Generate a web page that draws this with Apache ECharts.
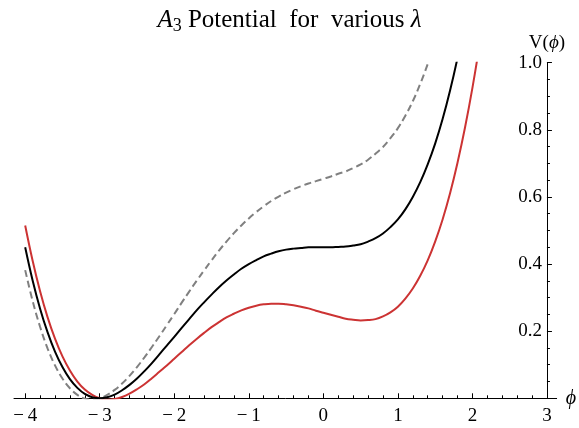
<!DOCTYPE html>
<html>

<head>
    <meta charset="utf-8">
    <title>A3 Potential</title>
    <!-- echarts -->
    <script src="https://cdn.jsdelivr.net/npm/echarts@6/dist/echarts.min.js"></script>
    <style>
        html, body { margin: 0; padding: 0; background: #fff; }
    </style>
</head>

<body>
    <div id="main" style="width: 579px;height:428px;"></div>

    <script type="text/javascript">
        // phi sample points (every 0.1)
        var phi = [-4.0, -3.9, -3.8, -3.7, -3.6, -3.5, -3.4, -3.3, -3.2, -3.1,
            -3.0, -2.9, -2.8, -2.7, -2.6, -2.5, -2.4, -2.3, -2.2, -2.1,
            -2.0, -1.9, -1.8, -1.7, -1.6, -1.5, -1.4, -1.3, -1.2, -1.1,
            -1.0, -0.9, -0.8, -0.7, -0.6, -0.5, -0.4, -0.3, -0.2, -0.1,
            0.0, 0.1, 0.2, 0.3, 0.4, 0.5, 0.6, 0.7, 0.8, 0.9,
            1.0, 1.1, 1.2, 1.3, 1.4, 1.5, 1.6, 1.7, 1.8, 1.9,
            2.0, 2.1, 2.2];
        // black solid curve
        var vBlack = [0.450, 0.351, 0.267, 0.197, 0.139, 0.093, 0.057, 0.031, 0.013, 0.003,
            0.000, 0.003, 0.011, 0.024, 0.040, 0.059, 0.081, 0.105, 0.131, 0.157,
            0.183, 0.210, 0.236, 0.262, 0.286, 0.309, 0.331, 0.351, 0.369, 0.386,
            0.400, 0.412, 0.423, 0.431, 0.438, 0.443, 0.446, 0.448, 0.450, 0.450,
            0.450, 0.450, 0.451, 0.452, 0.455, 0.459, 0.467, 0.477, 0.491, 0.510,
            0.533, 0.563, 0.600, 0.644, 0.697, 0.759, 0.832, 0.917, 1.014, 1.125,
            1.250, 1.392, 1.550];
        // red curve (lower)
        var vRed = [0.515, 0.410, 0.319, 0.242, 0.178, 0.125, 0.083, 0.050, 0.026, 0.010,
            0.000, -0.004, -0.002, 0.004, 0.014, 0.027, 0.042, 0.060, 0.079, 0.098,
            0.118, 0.138, 0.158, 0.177, 0.195, 0.212, 0.227, 0.241, 0.252, 0.262,
            0.270, 0.276, 0.280, 0.282, 0.282, 0.280, 0.277, 0.273, 0.268, 0.261,
            0.255, 0.249, 0.243, 0.237, 0.234, 0.232, 0.233, 0.236, 0.244, 0.256,
            0.273, 0.297, 0.327, 0.365, 0.411, 0.467, 0.533, 0.611, 0.702, 0.806,
            0.925, 1.060, 1.212];
        // gray dashed curve (upper)
        var vGray = [0.382, 0.290, 0.213, 0.149, 0.098, 0.059, 0.030, 0.010, -0.001, -0.004,
            0.000, 0.010, 0.025, 0.044, 0.067, 0.093, 0.122, 0.153, 0.185, 0.218,
            0.251, 0.285, 0.318, 0.350, 0.381, 0.411, 0.440, 0.467, 0.492, 0.515,
            0.536, 0.555, 0.572, 0.588, 0.601, 0.613, 0.623, 0.632, 0.640, 0.647,
            0.654, 0.661, 0.669, 0.676, 0.686, 0.697, 0.711, 0.729, 0.749, 0.775,
            0.805, 0.842, 0.885, 0.937, 0.996, 1.065, 1.145, 1.236, 1.340, 1.458,
            1.590, 1.738, 1.903];

        // tick labels
        var xTicks = [-4, -3, -2, -1, 0, 1, 2, 3];
        var yTicks = [0.2, 0.4, 0.6, 0.8, 1.0];

        var serif = 'Liberation Serif';
        var xMin = -4.15, xMax = 3.13;

        // minor ticks on x, 0.2 apart
        var xMinor = [];
        for (var i = 0; i < xTicks.length; i++) {
            for (var k = 1; k < 5; k++) {
                var m = Math.round((xTicks[i] + k * 0.2) * 10) / 10;
                if (m < xMax) xMinor.push(m);
            }
        }

        function pairs(ys) {
            var arr = [];
            for (var i = 0; i < phi.length; i++) {
                arr.push([phi[i], ys[i]]);
            }
            return arr;
        }

        var myChart = echarts.init(document.getElementById('main'));

        var option = {
            animation: false,
            title: {
                text: '{it|A}{sub|3} Potential  for  various {it|λ}',
                left: 'center',
                top: 0,
                textStyle: {
                    fontFamily: serif,
                    fontSize: 25,
                    fontWeight: 'normal',
                    color: '#000',
                    lineHeight: 30,
                    rich: {
                        it: { fontFamily: serif, fontSize: 25, fontStyle: 'italic', color: '#000', lineHeight: 30 },
                        sub: { fontFamily: serif, fontSize: 18, color: '#000', lineHeight: 17, verticalAlign: 'bottom' }
                    }
                }
            },
            grid: {
                left: 14,
                right: 22,
                top: 62.7,
                bottom: 29.7,
                containLabel: false
            },
            xAxis: [{
                type: 'value',
                min: xMin,
                max: xMax,
                name: 'ϕ',
                nameLocation: 'end',
                nameGap: 9,
                nameTextStyle: { fontFamily: serif, fontSize: 20, fontStyle: 'italic', color: '#000' },
                axisLine: { onZero: false, lineStyle: { color: '#000', width: 1 } },
                axisTick: { show: true, inside: true, length: 5, customValues: xTicks, lineStyle: { color: '#000' } },
                axisLabel: {
                    customValues: xTicks,
                    fontFamily: serif,
                    fontSize: 19,
                    color: '#000',
                    margin: 8,
                    formatter: function(v) {
                        return v < 0 ? '\u2212\u2009' + (-v) : String(v);
                    }
                },
                splitLine: { show: false }
            }, {
                type: 'value',
                min: xMin,
                max: xMax,
                position: 'bottom',
                axisLine: { show: false },
                axisTick: { show: true, inside: true, length: 3, customValues: xMinor, lineStyle: { color: '#000' } },
                axisLabel: { show: false },
                splitLine: { show: false }
            }],
            yAxis: {
                type: 'value',
                min: 0,
                max: 1,
                interval: 0.2,
                position: 'right',
                offset: -9.7,
                name: 'V({it|ϕ})',
                nameLocation: 'end',
                nameGap: 10,
                nameTextStyle: {
                    fontFamily: serif,
                    fontSize: 19,
                    color: '#000',
                    align: 'center',
                    rich: {
                        it: { fontFamily: serif, fontSize: 19, fontStyle: 'italic', color: '#000' }
                    }
                },
                axisLine: { show: true, onZero: false, lineStyle: { color: '#000', width: 1 } },
                axisTick: { show: true, inside: false, length: 5, lineStyle: { color: '#000' } },
                minorTick: { show: true, splitNumber: 4, length: 3, lineStyle: { color: '#000' } },
                axisLabel: {
                    inside: true,
                    margin: 5,
                    fontFamily: serif,
                    fontSize: 19,
                    color: '#000',
                    formatter: function(v) {
                        return yTicks.indexOf(Math.round(v * 10) / 10) >= 0 ? v.toFixed(1) : '';
                    }
                },
                splitLine: { show: false }
            },
            series: [{
                name: 'upper',
                type: 'line',
                data: pairs(vGray),
                smooth: 0.4,
                showSymbol: false,
                lineStyle: { color: '#808080', width: 2, type: [7, 4] }
            }, {
                name: 'lower',
                type: 'line',
                data: pairs(vRed),
                smooth: 0.4,
                showSymbol: false,
                lineStyle: { color: '#cc3333', width: 2 }
            }, {
                name: 'middle',
                type: 'line',
                data: pairs(vBlack),
                smooth: 0.4,
                showSymbol: false,
                lineStyle: { color: '#000000', width: 2 }
            }]
        };

        myChart.setOption(option);
    </script>
</body>

</html>
